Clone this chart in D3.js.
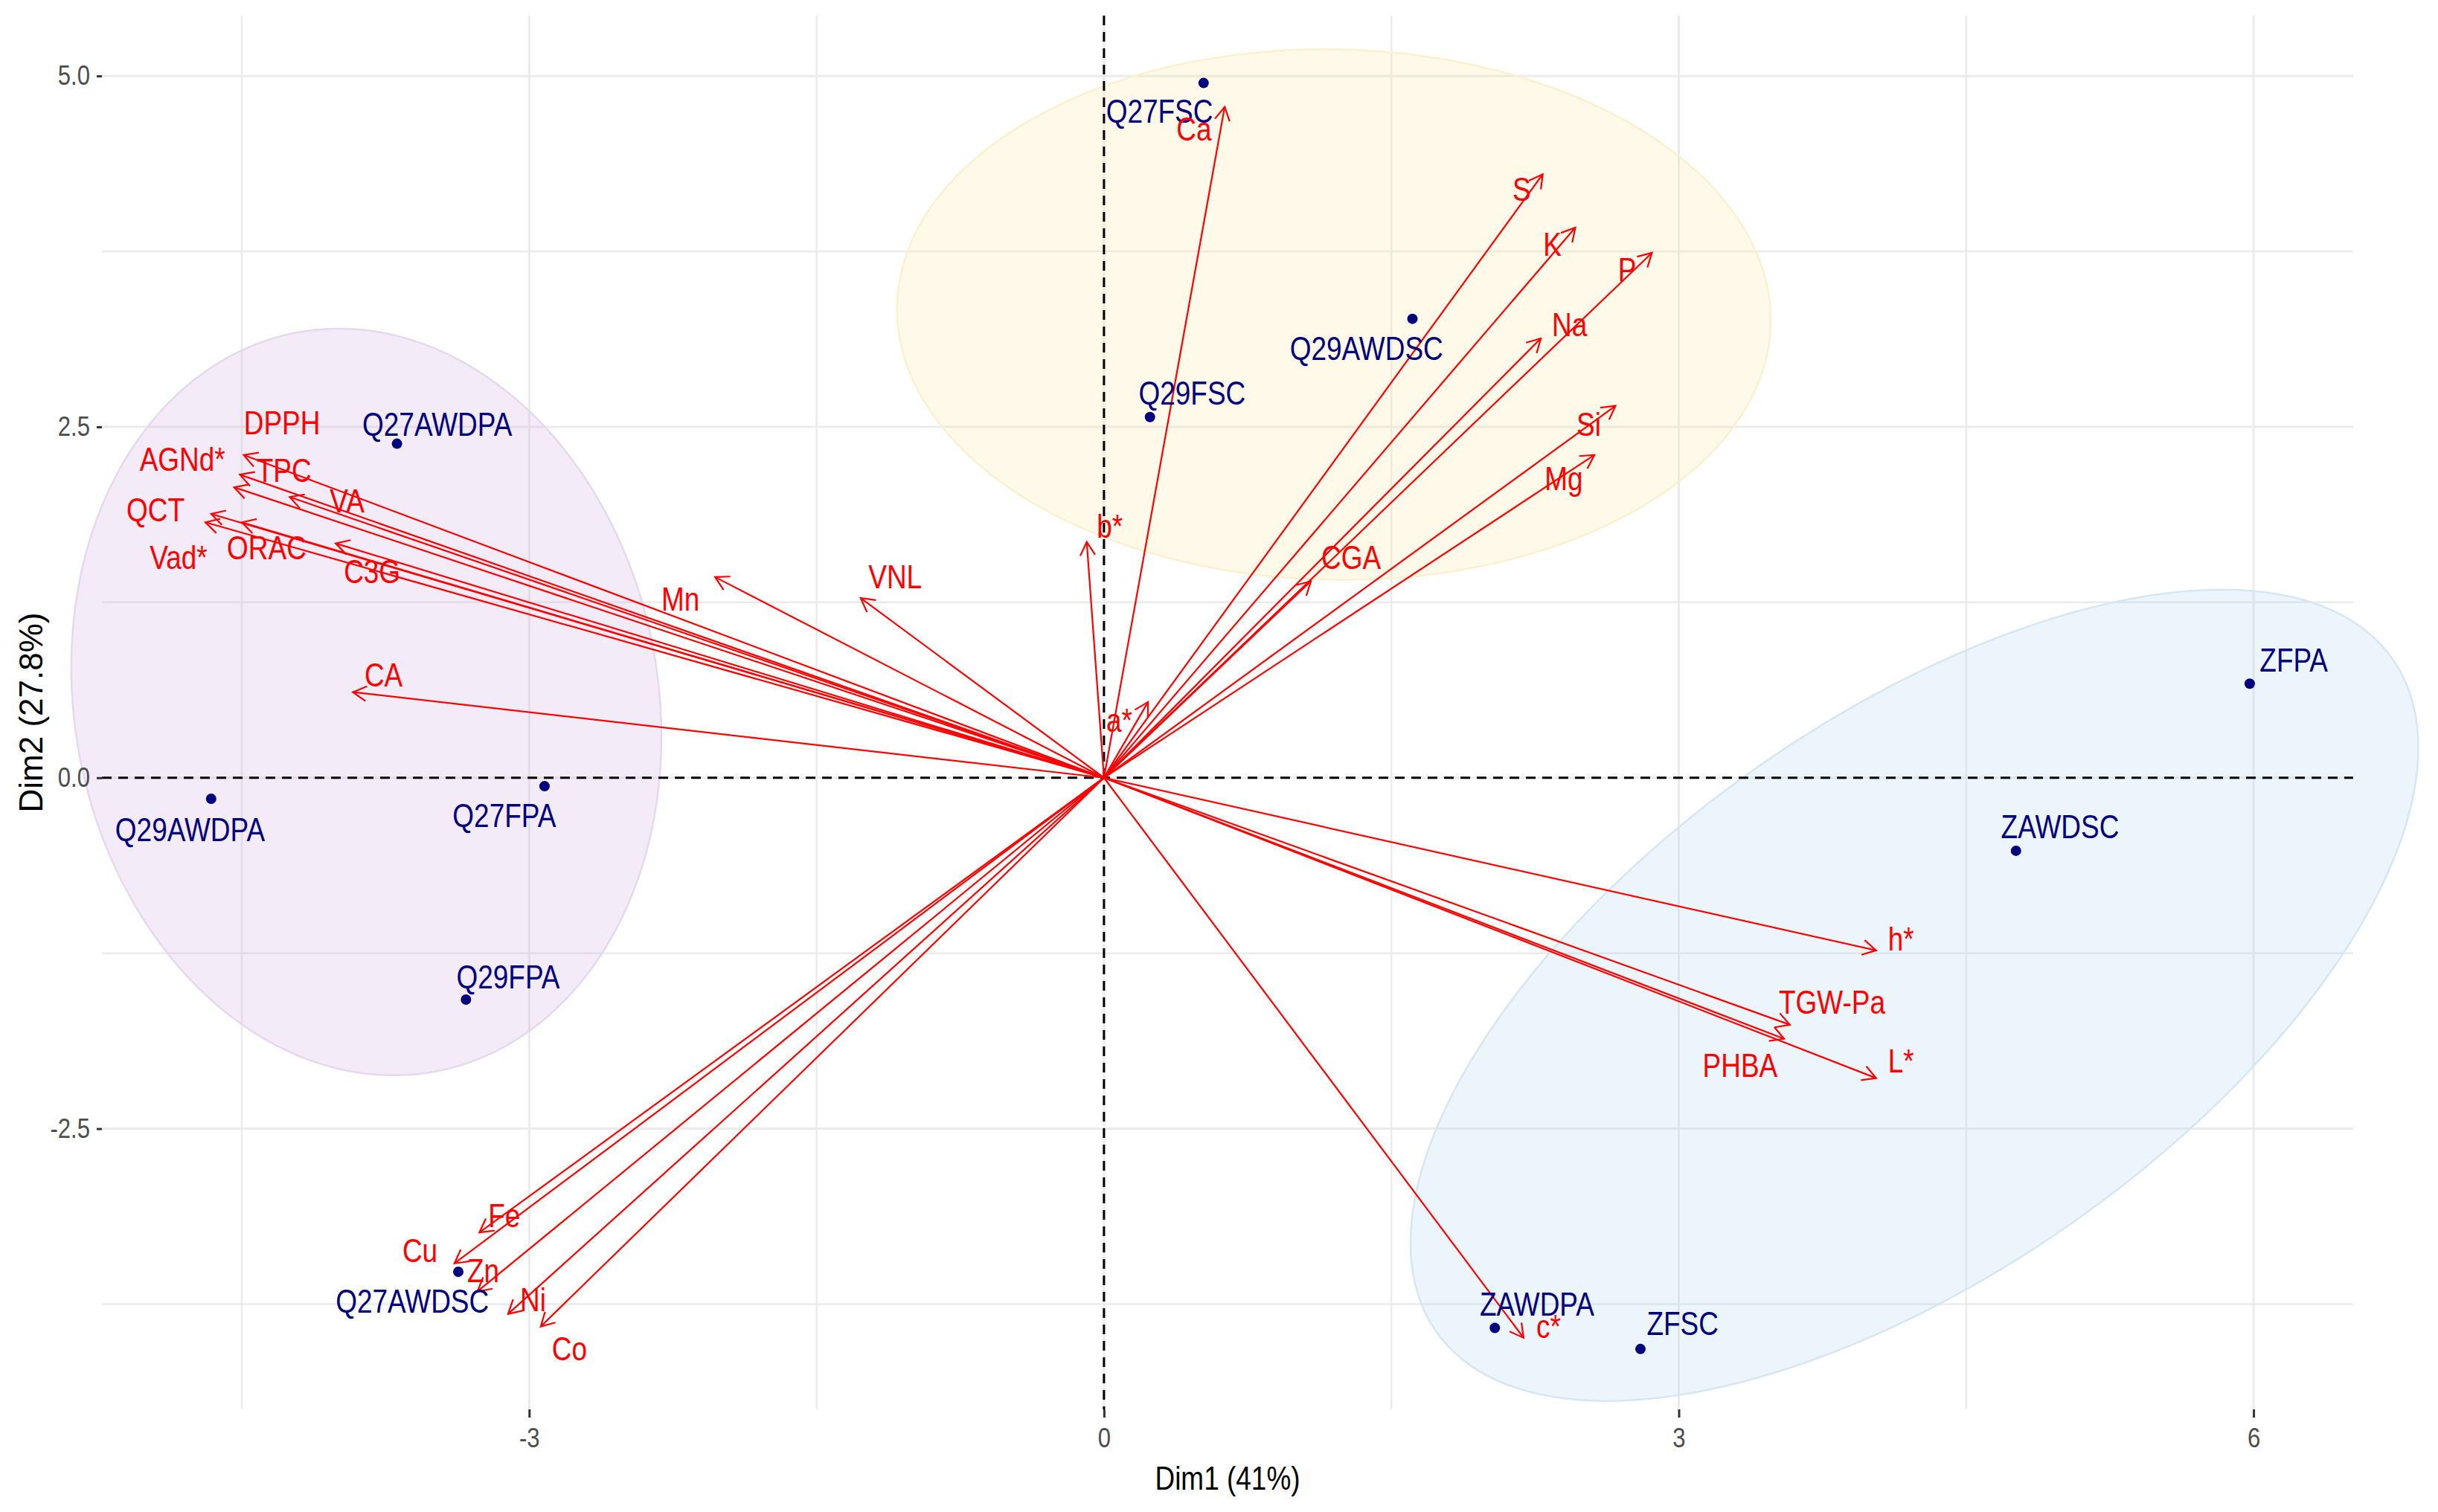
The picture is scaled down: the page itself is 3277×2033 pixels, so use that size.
<!DOCTYPE html>
<meta charset="utf-8">
<body style="margin:0;background:#fff">
<script src="https://d3js.org/d3.v7.min.js"></script>
<script>
  // individuals: coordinates on Dim1 / Dim2 and where their (repelled) labels sit
  var indNames = ["Q27FSC", "Q29FSC", "Q29AWDSC", "Q27AWDPA", "Q29AWDPA", "Q27FPA",
                  "Q29FPA", "Q27AWDSC", "ZAWDPA", "ZFSC", "ZAWDSC", "ZFPA"];
  var indX = [0.52, 0.24, 1.61, -3.69, -4.66, -2.92, -3.33, -3.37, 2.04, 2.80, 4.76, 5.98];
  var indY = [4.95, 2.57, 3.27, 2.38, -0.15, -0.06, -1.58, -3.52, -3.92, -4.07, -0.52, 0.67];
  var indLabelX = [0.29, 0.46, 1.37, -3.48, -4.77, -3.13, -3.11, -3.61, 2.26, 3.02, 4.99, 6.21];
  var indLabelY = [4.75, 2.74, 3.06, 2.52, -0.37, -0.27, -1.42, -3.73, -3.75, -3.89, -0.35, 0.84];

  // variables: arrow tips and label positions
  var varNames = ["DPPH", "AGNd*", "TPC", "VA", "QCT", "Vad*", "ORAC", "C3G", "CA", "Mn", "VNL",
                  "b*", "a*", "Ca", "S", "K", "P", "Na", "Si", "Mg", "CGA",
                  "h*", "TGW-Pa", "PHBA", "L*", "c*", "Fe", "Cu", "Zn", "Ni", "Co"];
  var varX = [-4.49, -4.51, -4.54, -4.25, -4.66, -4.69, -4.50, -4.01, -3.92, -2.03, -1.27,
              -0.09, 0.23, 0.63, 2.29, 2.46, 2.86, 2.28, 2.67, 2.56, 1.08,
              4.03, 3.58, 3.55, 4.03, 2.19, -3.26, -3.39, -3.27, -3.11, -2.94];
  var varY = [2.30, 2.16, 2.07, 2.00, 1.88, 1.82, 1.82, 1.67, 0.61, 1.43, 1.28,
              1.68, 0.54, 4.78, 4.30, 3.92, 3.74, 3.13, 2.65, 2.30, 1.40,
              -1.23, -1.76, -1.86, -2.14, -3.99, -3.24, -3.46, -3.66, -3.82, -3.91];
  var varLabelX = [-4.29, -4.81, -4.28, -3.95, -4.95, -4.83, -4.37, -3.82, -3.76, -2.21, -1.09,
                   0.03, 0.08, 0.47, 2.18, 2.34, 2.73, 2.43, 2.53, 2.40, 1.29,
                   4.16, 3.80, 3.32, 4.16, 2.32, -3.13, -3.57, -3.24, -2.98, -2.79];
  var varLabelY = [2.53, 2.27, 2.19, 1.97, 1.91, 1.57, 1.64, 1.47, 0.73, 1.27, 1.43,
                   1.79, 0.41, 4.62, 4.19, 3.80, 3.62, 3.23, 2.52, 2.13, 1.57,
                   -1.15, -1.60, -2.05, -2.02, -3.91, -3.12, -3.37, -3.51, -3.72, -4.07];

  // group ellipses: centre, spread on each dim and covariance (data units)
  var ellCx = [-3.85, 1.20, 4.23];
  var ellCy = [0.54, 3.30, -1.55];
  var ellSx = [1.54, 2.28, 2.63];
  var ellSy = [2.66, 1.89, 2.89];
  var ellSxy = [-0.38, -0.09, 4.64];
  var ellFill = ["#c9a3dc", "#fde49c", "#a9d2ee"];
  var ellStroke = ["#e6d8ee", "#fcf0cf", "#d6e6f3"];

  var xTicks = [-3, 0, 3, 6], xTickLabels = ["-3", "0", "3", "6"];
  var yTicks = [-2.5, 0, 2.5, 5], yTickLabels = ["-2.5", "0.0", "2.5", "5.0"];
  var xMinor = [-4.5, -1.5, 1.5, 4.5], yMinor = [-3.75, -1.25, 1.25, 3.75];

  var W = 3277, H = 2033;
  var FONT = "'Liberation Sans', Arial, sans-serif";
  var SQ = 0.84; // glyphs in the picture are narrower than plain Arial

  var svg = d3.select("body").append("svg")
      .attr("width", W).attr("height", H)
      .style("display", "block")
      .style("background", "#fff");

  var x = d3.scaleLinear().domain([-5.23, 6.52]).range([137, 3163]);
  var y = d3.scaleLinear().domain([-4.5, 5.43]).range([1895, 21]);

  // grid
  var grid = svg.append("g");
  grid.selectAll(".vx").data(xTicks.concat(xMinor)).enter().append("line")
      .attr("x1", function(d) { return x(d); }).attr("x2", function(d) { return x(d); })
      .attr("y1", y.range()[1]).attr("y2", y.range()[0])
      .attr("stroke", "#ebebeb")
      .attr("stroke-width", function(d) { return xTicks.indexOf(d) >= 0 ? 3 : 2.5; });
  grid.selectAll(".hy").data(yTicks.concat(yMinor)).enter().append("line")
      .attr("y1", function(d) { return y(d); }).attr("y2", function(d) { return y(d); })
      .attr("x1", x.range()[0]).attr("x2", x.range()[1])
      .attr("stroke", "#ebebeb")
      .attr("stroke-width", function(d) { return yTicks.indexOf(d) >= 0 ? 3 : 2.5; });

  // ellipses
  var ells = ellCx.map(function(c, i) { return i; });
  svg.selectAll(".ell").data(ells).enter().append("path")
      .attr("d", function(i) {
        var ux = ellSx[i], uy = ellSxy[i] / ellSx[i];
        var vy = Math.sqrt(ellSy[i] * ellSy[i] - uy * uy);
        var pts = d3.range(0, 361, 2).map(function(a) {
          var t = a * Math.PI / 180;
          return [x(ellCx[i] + ux * Math.cos(t)), y(ellCy[i] + uy * Math.cos(t) + vy * Math.sin(t))];
        });
        return d3.line()(pts) + "Z";
      })
      .attr("fill", function(i) { return ellFill[i]; })
      .attr("fill-opacity", 0.22)
      .attr("stroke", function(i) { return ellStroke[i]; })
      .attr("stroke-width", 2.5);

  // dashed zero lines
  svg.append("line")
      .attr("x1", x.range()[0]).attr("x2", x.range()[1])
      .attr("y1", y(0)).attr("y2", y(0))
      .attr("stroke", "#000").attr("stroke-width", 3).attr("stroke-dasharray", "13,9");
  svg.append("line")
      .attr("x1", x(0)).attr("x2", x(0))
      .attr("y1", y.range()[1]).attr("y2", y.range()[0])
      .attr("stroke", "#000").attr("stroke-width", 3).attr("stroke-dasharray", "13,9");

  // axes
  var xAxis = svg.append("g")
      .attr("transform", "translate(0," + y.range()[0] + ")")
      .call(d3.axisBottom(x).tickValues(xTicks).tickSize(11).tickPadding(14)
          .tickFormat(function(d, i) { return xTickLabels[i]; }));
  var yAxis = svg.append("g")
      .attr("transform", "translate(" + x.range()[0] + ",0)")
      .call(d3.axisLeft(y).tickValues(yTicks).tickSize(7).tickPadding(9)
          .tickFormat(function(d, i) { return yTickLabels[i]; }));
  [xAxis, yAxis].forEach(function(a) {
    a.select(".domain").remove();
    a.selectAll(".tick line").attr("stroke", "#333").attr("stroke-width", 3);
    a.selectAll(".tick text")
        .style("font-family", FONT).style("font-size", "37px").attr("fill", "#4d4d4d");
  });
  yAxis.selectAll(".tick text").attr("x", -16 / SQ).attr("transform", "scale(" + SQ + ",1)");
  xAxis.selectAll(".tick text").attr("transform", "scale(" + SQ + ",1)");

  svg.append("text")
      .attr("transform", "translate(" + ((x.range()[0] + x.range()[1]) / 2) + ",1988) scale(" + SQ + ",1)")
      .attr("text-anchor", "middle").attr("dy", "0.35em")
      .style("font-family", FONT).style("font-size", "44px")
      .text("Dim1 (41%)");
  svg.append("text")
      .attr("transform", "translate(42," + ((y.range()[0] + y.range()[1]) / 2) + ") rotate(-90)")
      .attr("text-anchor", "middle").attr("dy", "0.35em")
      .style("font-family", FONT).style("font-size", "44px")
      .text("Dim2 (27.8%)");

  // arrows
  svg.append("defs").append("marker")
      .attr("id", "head")
      .attr("markerUnits", "userSpaceOnUse")
      .attr("viewBox", "-24 -14 28 28")
      .attr("markerWidth", 28).attr("markerHeight", 28)
      .attr("refX", 0).attr("refY", 0)
      .attr("orient", "auto")
      .append("path")
      .attr("d", "M-18,-10L0,0L-18,10")
      .attr("fill", "none").attr("stroke", "#ff0000").attr("stroke-width", 2.2);

  var vars = varNames.map(function(n, i) { return i; });
  svg.selectAll(".arrow").data(vars).enter().append("line")
      .attr("x1", x(0)).attr("y1", y(0))
      .attr("x2", function(i) { return x(varX[i]); })
      .attr("y2", function(i) { return y(varY[i]); })
      .attr("stroke", "#ff0000").attr("stroke-width", 2.2)
      .attr("marker-end", "url(#head)");

  // individuals
  var inds = indNames.map(function(n, i) { return i; });
  svg.selectAll(".pt").data(inds).enter().append("circle")
      .attr("cx", function(i) { return x(indX[i]); })
      .attr("cy", function(i) { return y(indY[i]); })
      .attr("r", 7)
      .attr("fill", "#00007f");

  svg.selectAll(".indlab").data(inds).enter().append("text")
      .attr("transform", function(i) {
        return "translate(" + x(indLabelX[i]) + "," + y(indLabelY[i]) + ") scale(" + SQ + ",1)";
      })
      .attr("text-anchor", "middle").attr("dy", "0.35em")
      .style("font-family", FONT).style("font-size", "44px")
      .attr("fill", "#00007f")
      .text(function(i) { return indNames[i]; });

  svg.selectAll(".varlab").data(vars).enter().append("text")
      .attr("transform", function(i) {
        return "translate(" + x(varLabelX[i]) + "," + y(varLabelY[i]) + ") scale(" + SQ + ",1)";
      })
      .attr("text-anchor", "middle").attr("dy", "0.35em")
      .style("font-family", FONT).style("font-size", "44px")
      .attr("fill", "#ff0000")
      .text(function(i) { return varNames[i]; });
</script>
</body>
